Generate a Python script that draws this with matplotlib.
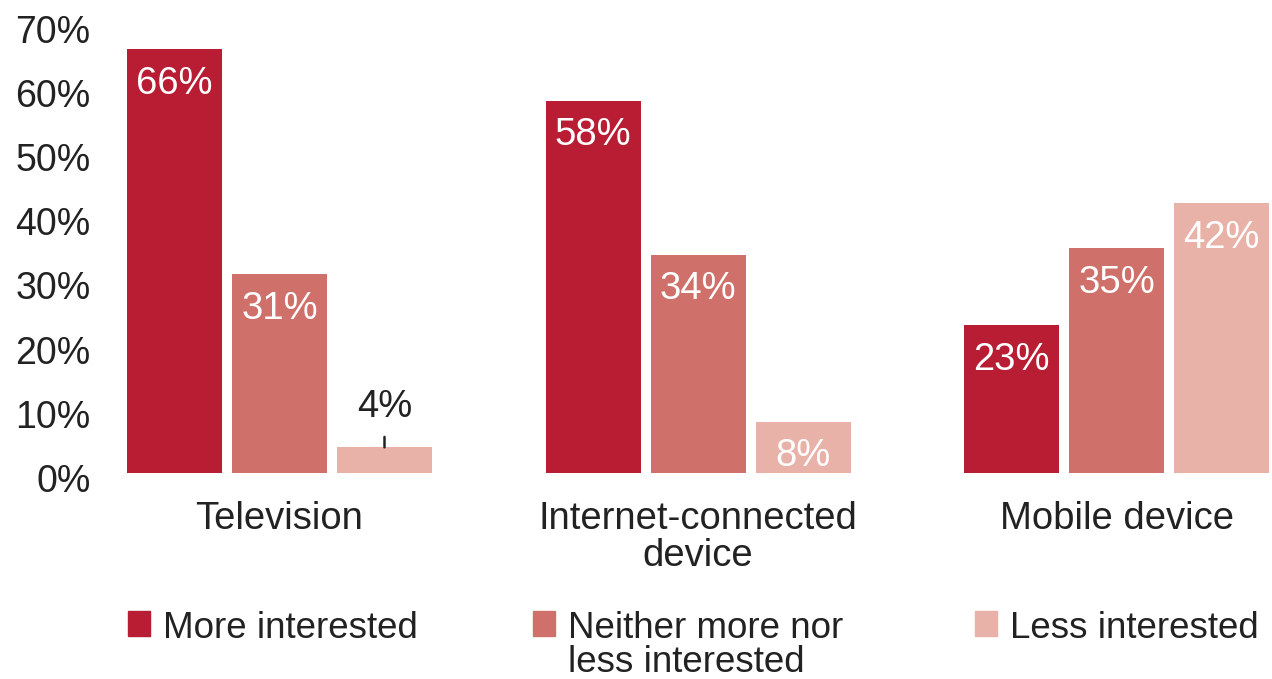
import matplotlib
matplotlib.use("Agg")
import matplotlib.pyplot as plt
import matplotlib.transforms as mtransforms
import numpy as np
from matplotlib.patches import Patch

plt.rcParams['font.family'] = ['Liberation Sans', 'DejaVu Sans']

categories = ["Television", "Internet-connected\ndevice", "Mobile device"]
series_names = ["More interested", "Neither more nor\nless interested", "Less interested"]
more_interested = [66, 58, 23]
neither = [31, 34, 35]
less_interested = [4, 8, 42]
yticks = [0, 10, 20, 30, 40, 50, 60, 70]
ytick_labels = ["0%", "10%", "20%", "30%", "40%", "50%", "60%", "70%"]

colors = ["#b81d33", "#cf716a", "#e8b2a8"]
txt = "#222222"

W, H = 1272, 679
fig = plt.figure(figsize=(W / 100, H / 100), dpi=100)
px_per_unit = 418.5
x0_px = 279.5
left_px, right_px = 110, 1272
bottom_px = 473
top_px = bottom_px - 6.42 * 70
ax = fig.add_axes([left_px / W, 1 - bottom_px / H, (right_px - left_px) / W, (bottom_px - top_px) / H])
ax.set_xlim((left_px - x0_px) / px_per_unit, (right_px - x0_px) / px_per_unit)
ax.set_ylim(0, 70)

x = np.arange(len(categories))
bw = 95 / px_per_unit
step = 105 / px_per_unit
all_series = [more_interested, neither, less_interested]
for i, vals in enumerate(all_series):
    ax.bar(x + (i - 1) * step, vals, width=bw, color=colors[i], label=series_names[i])

fs_lab = 27.5
for i, vals in enumerate(all_series):
    for j, v in enumerate(vals):
        xc = x[j] + (i - 1) * step
        if v >= 6:
            ax.annotate(f"{v}%", xy=(xc, v), xytext=(0, -12), textcoords="offset points",
                        ha="center", va="top", color="white", fontsize=fs_lab)
        else:
            ax.annotate("", xy=(xc, v), xytext=(0, 7.5), textcoords="offset points",
                        arrowprops=dict(arrowstyle="-", color=txt, lw=1.8,
                                        shrinkA=0, shrinkB=0))
            ax.annotate(f"{v}%", xy=(xc, v), xytext=(0, 16), textcoords="offset points",
                        ha="center", va="bottom", color=txt, fontsize=fs_lab)

ax.set_yticks(yticks)
ax.set_yticklabels(ytick_labels, fontsize=27, color=txt)
ax.tick_params(axis="y", length=0, pad=14)
off = mtransforms.ScaledTranslation(0, -5 / 100, fig.dpi_scale_trans)
for lab in ax.get_yticklabels():
    lab.set_transform(lab.get_transform() + off)
ax.set_xticks(x)
ax.set_xticklabels(categories, fontsize=27.5, color=txt, linespacing=1.03)
ax.tick_params(axis="x", length=0, pad=20)
for s in ax.spines.values():
    s.set_visible(False)

legend_x = [128, 533, 975]
for i in range(3):
    leg = fig.legend(handles=[Patch(color=colors[i])], labels=[series_names[i]],
                     loc="upper left", bbox_to_anchor=(legend_x[i] / W, 1 - 611 / H),
                     frameon=False, fontsize=26.5, handlelength=0.6, handleheight=0.68,
                     handletextpad=0.35, borderaxespad=0, borderpad=0,
                     labelcolor=txt)
    for t in leg.get_texts():
        t.set_linespacing(0.95)
    for col in leg._legend_handle_box.get_children():
        for hp in col.get_children():
            hp.align = "top"

fig.savefig("out.png", dpi=100, facecolor="white")
